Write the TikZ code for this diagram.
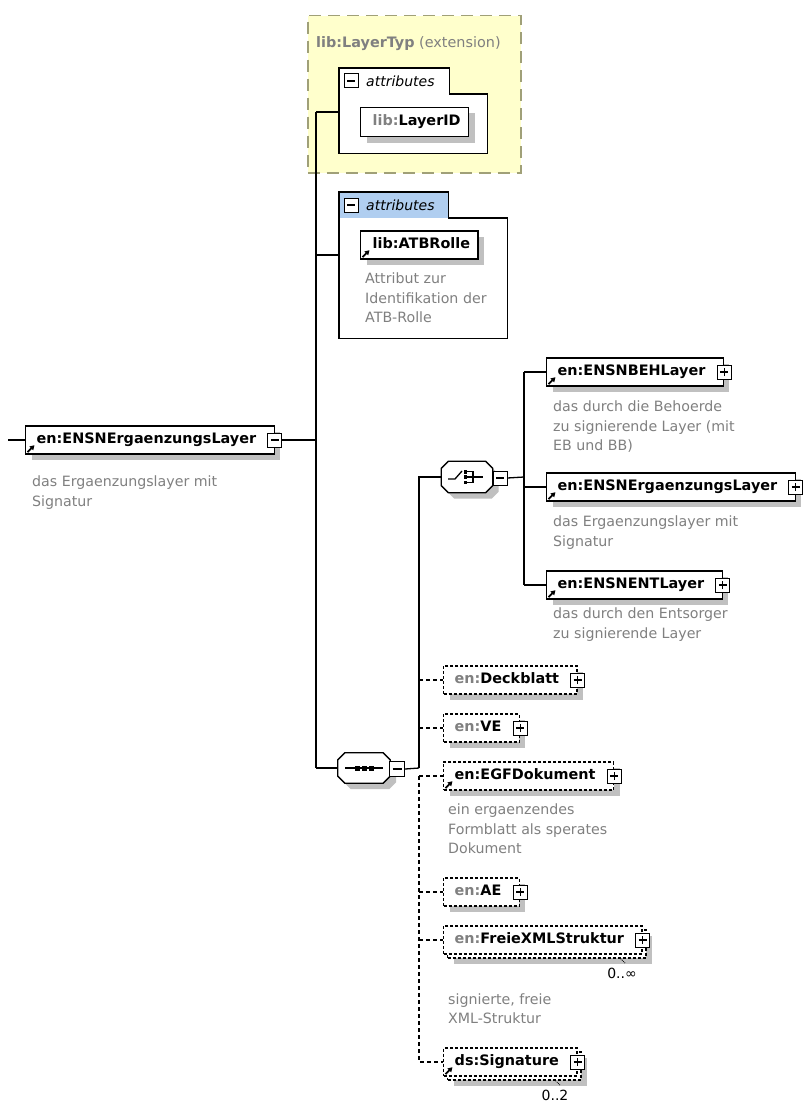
\documentclass[tikz,border=0pt]{standalone}
\usepackage{fontspec}
\setmainfont{DejaVu Sans}
\usetikzlibrary{shadows,arrows.meta,calc}

\definecolor{descgray}{RGB}{128,128,128}
\definecolor{shadowgray}{RGB}{192,192,192}
\definecolor{extfill}{RGB}{255,255,204}
\definecolor{extline}{RGB}{160,160,120}
\definecolor{tabblue}{RGB}{176,206,240}

% element captions: room on the left for the reference arrow, on the right for the expand box
\newcommand{\eltlabel}[1]{\hspace*{11pt}#1\hspace*{18pt}}
\newcommand{\attlabel}[1]{\hspace*{12pt}#1\hspace*{8pt}}
\newcommand{\gpre}[1]{\textcolor{descgray}{#1}}
% outline of a compositor (sequence / choice) around an invisible node
\newcommand{\octoutline}[1]{([xshift=7pt]#1.north west) -- ([xshift=-7pt]#1.north east) -- ([yshift=-7pt]#1.north east) -- ([yshift=7pt]#1.south east) -- ([xshift=-7pt]#1.south east) -- ([xshift=7pt]#1.south west) -- ([yshift=7pt]#1.south west) -- ([yshift=-7pt]#1.north west) -- cycle}

\tikzset{
  conn/.style={line width=1.3pt},
  optconn/.style={line width=1.3pt, dash pattern=on 4pt off 3pt},
  eltbase/.style={draw, fill=white, line width=1.4pt, anchor=west, minimum height=28pt,
    inner xsep=0pt, inner ysep=0pt, text height=10.5pt, text depth=3pt,
    font=\fontsize{14.4}{17}\selectfont\bfseries},
  elt/.style={eltbase, general shadow={fill=shadowgray, shadow xshift=6pt, shadow yshift=-6pt}},
  optelt/.style={elt, dash pattern=on 3pt off 2pt},
  multielt/.style={eltbase, dash pattern=on 3pt off 2pt,
    general shadow={fill=shadowgray, shadow xshift=10pt, shadow yshift=-10pt},
    general shadow={draw, fill=white, line width=1.4pt, dash pattern=on 3pt off 2pt, shadow xshift=4pt, shadow yshift=-4pt}},
  pm/.style={draw, fill=white, line width=1pt, minimum size=14pt, inner sep=0pt},
  plusbox/.style={pm, path picture={\draw[line width=1.1pt]
      ([xshift=3pt]path picture bounding box.west) -- ([xshift=-3pt]path picture bounding box.east)
      ([yshift=3pt]path picture bounding box.south) -- ([yshift=-3pt]path picture bounding box.north);}},
  minusbox/.style={pm, path picture={\draw[line width=1.1pt]
      ([xshift=3pt]path picture bounding box.west) -- ([xshift=-3pt]path picture bounding box.east);}},
  desc/.style={anchor=north west, inner sep=0pt, align=left, text=descgray,
    font=\fontsize{14.2}{19.5}\selectfont},
  refarrow/.style={line width=1.8pt, -{Triangle[length=4.5pt,width=5pt]}},
  area/.style={inner sep=0pt, draw=none, anchor=north west},
  attrline/.style={line width=1.3pt},
  tabtext/.style={anchor=west, inner sep=0pt, font=\fontsize{14}{16}\selectfont\itshape},
  occur/.style={inner sep=0pt, font=\fontsize{14}{16}\selectfont},
  occmark/.style={line width=0.8pt, densely dotted},
}

\begin{document}
\begin{tikzpicture}[x=1pt,y=-1pt]
\fill[white] (0,0) rectangle (810,1113);
\useasboundingbox (0,0) rectangle (810,1113);

% base type (extension)
\node[area, fill=extfill, draw=extline, line width=1.5pt, dash pattern=on 12pt off 7pt,
      minimum width=213pt, minimum height=157pt] (ext) at (307,15) {};
\node[anchor=west, inner sep=0pt, text=descgray, font=\fontsize{14.4}{17}\selectfont]
      (exttitle) at (316,44) {\textbf{lib:LayerTyp} (extension)};

% attributes of the base type
\node[area, minimum width=148pt, minimum height=59pt] (attr1) at (339,94) {};
\node[area, minimum width=110pt, minimum height=26pt] (tab1) at (339,68) {};
\filldraw[attrline, fill=white] (tab1.south west) |- (tab1.north east) |- (attr1.north east) |- (attr1.south west) -- cycle;
\node[minusbox] (tabm1) at (351,81) {};
\node[tabtext] (tabt1) at (366,81) {attributes};
\node[elt, minimum height=29pt] (layerid) at (360,122) {\attlabel{\gpre{lib:}LayerID}};

% own attributes
\node[area, minimum width=168pt, minimum height=120pt] (attr2) at (339,218) {};
\node[area, minimum width=109pt, minimum height=26pt] (tab2) at (339,192) {};
\fill[white] (attr2.north west) rectangle (attr2.south east);
\fill[tabblue] (tab2.north west) rectangle (tab2.south east);
\draw[attrline] (tab2.south west) |- (tab2.north east) |- (attr2.north east) |- (attr2.south west) -- cycle;
\node[minusbox] (tabm2) at (351,205) {};
\node[tabtext] (tabt2) at (366,205) {attributes};
\node[elt] (atbrolle) at (360,245) {\attlabel{lib:ATBRolle}};
\node[desc] (atbdesc) at (365,273) {Attribut zur\\Identifikation der\\ATB-Rolle};

% root element
\node[elt] (root) at (25,440) {\eltlabel{en:ENSNErgaenzungsLayer}};
\node[minusbox] (rootm) at (root.east) {};
\coordinate (rootin) at (8,440);
\node[desc] (rootdesc) at (32,476) {das Ergaenzungslayer mit\\Signatur};

% attachment points on the main bus
\coordinate (bTop) at (316,112);
\coordinate (bAttr) at (316,255);
\coordinate (bRoot) at (316,440);
\coordinate (bSeq) at (316,768);

% sequence compositor
\node[area, anchor=center, minimum width=52pt, minimum height=30pt] (seq) at (364,768) {};
\fill[shadowgray, transform canvas={shift={(6pt,-6pt)}}] \octoutline{seq};
\filldraw[fill=white, line width=1.3pt] \octoutline{seq};
\begin{scope}[shift={(seq.center)}]
  \draw[line width=1.3pt] (-19,0) -- (19,0);
  \fill (-9.5,-2.5) rectangle (-4.5,2.5);
  \fill (-2.5,-2.5) rectangle (2.5,2.5);
  \fill (4.5,-2.5) rectangle (9.5,2.5);
\end{scope}
\node[minusbox, minimum size=15pt] (seqm) at (397,769) {};
\coordinate (sbus) at (419,768);

% choice compositor
\node[area, anchor=center, minimum width=51pt, minimum height=31pt] (choice) at (467,477) {};
\fill[shadowgray, transform canvas={shift={(6pt,-6pt)}}] \octoutline{choice};
\filldraw[fill=white, line width=1.3pt] \octoutline{choice};
\begin{scope}[shift={(choice.center)}]
  \draw[line width=1.3pt] (-19,2) -- (-12,2) -- (-5,-6);
  \fill (-3.5,-7) rectangle (0,-3.5);
  \fill (-3.5,-1.75) rectangle (0,1.75);
  \fill (-3.5,3.5) rectangle (0,7);
  \draw[line width=1.2pt] (0,-5.25) -- (6,-5.25) -- (6,5.25) -- (0,5.25);
  \draw[line width=1.3pt] (0,0) -- (16,0);
\end{scope}
\node[minusbox, minimum size=14pt] (choicem) at (500,478) {};
\coordinate (cbus) at (524,477);

% choice alternatives
\node[elt] (beh) at (546,372) {\eltlabel{en:ENSNBEHLayer}};
\node[plusbox] (behp) at (beh.east) {};
\node[desc] (behdesc) at (553,401) {das durch die Behoerde\\zu signierende Layer (mit\\EB und BB)};
\node[elt] (erg) at (546,487) {\eltlabel{en:ENSNErgaenzungsLayer}};
\node[plusbox] (ergp) at (erg.east) {};
\node[desc] (ergdesc) at (553,516) {das Ergaenzungslayer mit\\Signatur};
\node[elt] (ent) at (546,585) {\eltlabel{en:ENSNENTLayer}};
\node[plusbox] (entp) at (ent.east) {};
\node[desc] (entdesc) at (553,608) {das durch den Entsorger\\zu signierende Layer};

% sequence members
\node[optelt] (deck) at (443,680) {\eltlabel{\gpre{en:}Deckblatt}};
\node[plusbox] (deckp) at (deck.east) {};
\node[optelt] (ve) at (443,728) {\eltlabel{\gpre{en:}VE}};
\node[plusbox] (vep) at (ve.east) {};
\node[optelt] (egf) at (443,776) {\eltlabel{en:EGFDokument}};
\node[plusbox] (egfp) at (egf.east) {};
\node[desc] (egfdesc) at (448,804) {ein ergaenzendes\\Formblatt als sperates\\Dokument};
\node[optelt] (ae) at (443,892) {\eltlabel{\gpre{en:}AE}};
\node[plusbox] (aep) at (ae.east) {};
\node[multielt] (freie) at (443,940) {\eltlabel{\gpre{en:}FreieXMLStruktur}};
\node[plusbox] (freiep) at (freie.east) {};
\node[occur] (freieocc) at (622,973) {0..∞};
\draw[occmark] ([xshift=-22pt,yshift=-4pt]freie.south east) -- ++(5,5);
\node[desc] (freiedesc) at (448,993) {signierte, freie\\XML-Struktur};
\node[multielt] (sig) at (443,1062) {\eltlabel{ds:Signature}};
\node[plusbox] (sigp) at (sig.east) {};
\node[occur] (sigocc) at (555,1095) {0..2};
\draw[occmark] ([xshift=-22pt,yshift=-4pt]sig.south east) -- ++(5,5);

% reference arrows
\foreach \n in {root,beh,erg,ent,egf,sig,atbrolle}
  \draw[refarrow] ([xshift=2.5pt,yshift=2.5pt]\n.south west) -- ++(7,-7);

% connectors
\draw[conn] (rootin) -- (root.west);
\draw[conn] (rootm.east) -- (bRoot);
\draw[conn] (bTop) -- (bSeq);
\draw[conn] (bTop) -- (bTop -| attr1.west);
\draw[conn] (bAttr) -- (bAttr -| attr2.west);
\draw[conn] (bSeq) -- (seq.west);
\draw[conn] (seqm.east) -- (sbus);
\draw[conn] (sbus) |- (choice.west);
\draw[conn] (choicem.east) -- (cbus);
\draw[conn] (cbus |- beh.west) -- (cbus |- ent.west);
\draw[conn] (cbus |- beh.west) -- (beh.west);
\draw[conn] (cbus |- erg.west) -- (erg.west);
\draw[conn] (cbus |- ent.west) -- (ent.west);
\draw[optconn] (sbus |- deck.west) -- (deck.west);
\draw[optconn] (sbus |- ve.west) -- (ve.west);
\draw[optconn] (sbus |- egf.west) -- (egf.west);
\draw[optconn] (sbus |- egf.west) |- (sig.west);
\draw[optconn] (sbus |- ae.west) -- (ae.west);
\draw[optconn] (sbus |- freie.west) -- (freie.west);
\end{tikzpicture}
\end{document}
